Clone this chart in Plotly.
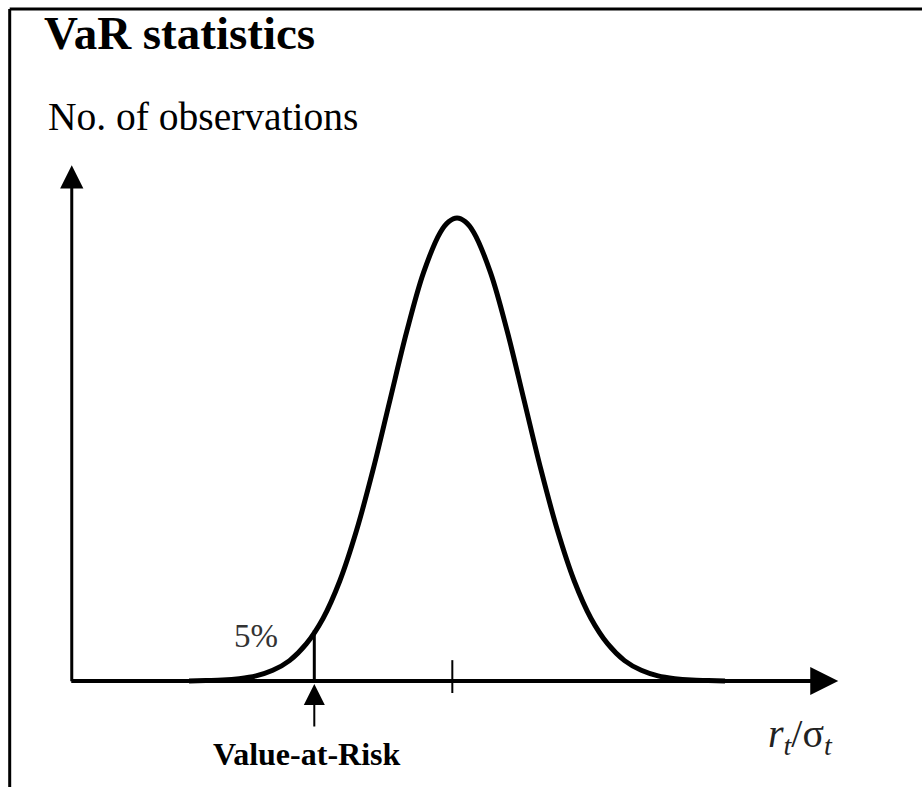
import plotly.graph_objects as go

# ---- data (x in units of r_t/sigma_t, y relative no. of observations) ----
curve_z = [-4.0, -3.75, -3.5, -3.25, -3.0, -2.75, -2.5, -2.25, -2.0, -1.75, -1.5, -1.25, -1.0,
           -0.75, -0.5, -0.25, -0.125, 0.0, 0.125, 0.25, 0.5, 0.75, 1.0, 1.25, 1.5, 1.75, 2.0, 2.25, 2.5,
           2.75, 3.0, 3.25, 3.5, 3.75, 4.0]
curve_obs = [0.0, 0.001, 0.002, 0.005, 0.011, 0.023, 0.044, 0.080, 0.135, 0.216, 0.325, 0.458, 0.607,
             0.755, 0.882, 0.969, 0.992, 1.0, 0.992, 0.969, 0.882, 0.755, 0.607, 0.458, 0.325, 0.216, 0.135,
             0.080, 0.044, 0.023, 0.011, 0.005, 0.002, 0.001, 0.0]
var_z = [-2.13]          # Value-at-Risk position (5% tail)
var_obs = [0.11]         # curve height at VaR
mean_tick_z = [-0.07]    # tick on the horizontal axis

title_text = "<b>VaR statistics</b>"
ylabel_text = "No. of observations"
xlabel_text = "<i>r<sub>t</sub></i>/σ<sub><i>t</i></sub>"
tail_text = "5%"
var_text = "<b>Value-at-Risk</b>"

# ---- layout constants ----
X_MIN, X_MAX = -6.821, 6.940
Y_MIN, Y_MAX = -0.229, 1.471
AXIS_ORIGIN_X = -5.75
AXIS_ORIGIN_X_LINE = -5.78
X_AXIS_END = 5.69
Y_AXIS_END = 1.114
FONT = "Liberation Serif, Times New Roman, serif"

fig = go.Figure()

# bell curve
fig.add_trace(go.Scatter(x=curve_z, y=curve_obs, mode="lines",
                         line=dict(color="black", width=5, shape="spline", smoothing=1.0),
                         hoverinfo="skip", showlegend=False))
# VaR vertical line
fig.add_trace(go.Scatter(x=[var_z[0], var_z[0]], y=[0, var_obs[0]], mode="lines",
                         line=dict(color="black", width=3), hoverinfo="skip", showlegend=False))

shapes = [
    # tick at the mean
    dict(type="line", xref="x", yref="y", x0=mean_tick_z[0], x1=mean_tick_z[0],
         y0=-0.026, y1=0.045, line=dict(color="black", width=2)),
    # frame: top and left borders
    dict(type="line", xref="paper", yref="paper", x0=9.7 / 922, x1=1.0, y0=1 - 9 / 787, y1=1 - 9 / 787,
         line=dict(color="black", width=3)),
    dict(type="line", xref="paper", yref="paper", x0=9.7 / 922, x1=9.7 / 922, y0=0, y1=1 - 9 / 787,
         line=dict(color="black", width=3)),
]

annotations = [
    # x axis arrow
    dict(x=X_AXIS_END, y=0, ax=AXIS_ORIGIN_X_LINE, ay=0, xref="x", yref="y", axref="x", ayref="y",
         text="", showarrow=True, arrowhead=2, arrowwidth=4, arrowsize=1.4, arrowcolor="black", standoff=0),
    # y axis arrow
    dict(x=AXIS_ORIGIN_X, y=Y_AXIS_END, ax=AXIS_ORIGIN_X, ay=-0.004, xref="x", yref="y", axref="x", ayref="y",
         text="", showarrow=True, arrowhead=2, arrowwidth=3, arrowsize=1.55, arrowcolor="black", standoff=0),
    # VaR arrow from below
    dict(x=var_z[0], y=0, ax=0, ay=47, xref="x", yref="y", text="", showarrow=True,
         arrowhead=2, arrowwidth=2, arrowsize=2.1, arrowcolor="black", standoff=3),
    # texts
    dict(x=42 / 922, y=1 - 33 / 787, xref="paper", yref="paper", text=title_text, showarrow=False,
         xanchor="left", yanchor="middle", font=dict(family=FONT, size=47, color="black")),
    dict(x=46 / 922, y=1 - 117 / 787, xref="paper", yref="paper", text=ylabel_text, showarrow=False,
         xanchor="left", yanchor="middle", font=dict(family=FONT, size=39.5, color="black")),
    dict(x=256 / 922, y=1 - 636 / 787, xref="paper", yref="paper", text=tail_text, showarrow=False,
         xanchor="center", yanchor="middle", font=dict(family=FONT, size=33, color="#333333")),
    dict(x=306 / 922, y=1 - 754 / 787, xref="paper", yref="paper", text=var_text, showarrow=False,
         xanchor="center", yanchor="middle", font=dict(family=FONT, size=32, color="black")),
    dict(x=800 / 922, y=1 - 736 / 787, xref="paper", yref="paper", text=xlabel_text, showarrow=False,
         xanchor="center", yanchor="middle", font=dict(family=FONT, size=40, color="#222222")),
]

fig.update_layout(
    width=922, height=787, autosize=False,
    margin=dict(l=0, r=0, t=0, b=0),
    paper_bgcolor="white", plot_bgcolor="white",
    xaxis=dict(range=[X_MIN, X_MAX], visible=False, fixedrange=True),
    yaxis=dict(range=[Y_MIN, Y_MAX], visible=False, fixedrange=True),
    shapes=shapes, annotations=annotations, showlegend=False,
)

fig.write_html("out.html", config={"displayModeBar": False},
               post_script="document.body.style.margin='0';document.body.style.overflow='hidden';")
